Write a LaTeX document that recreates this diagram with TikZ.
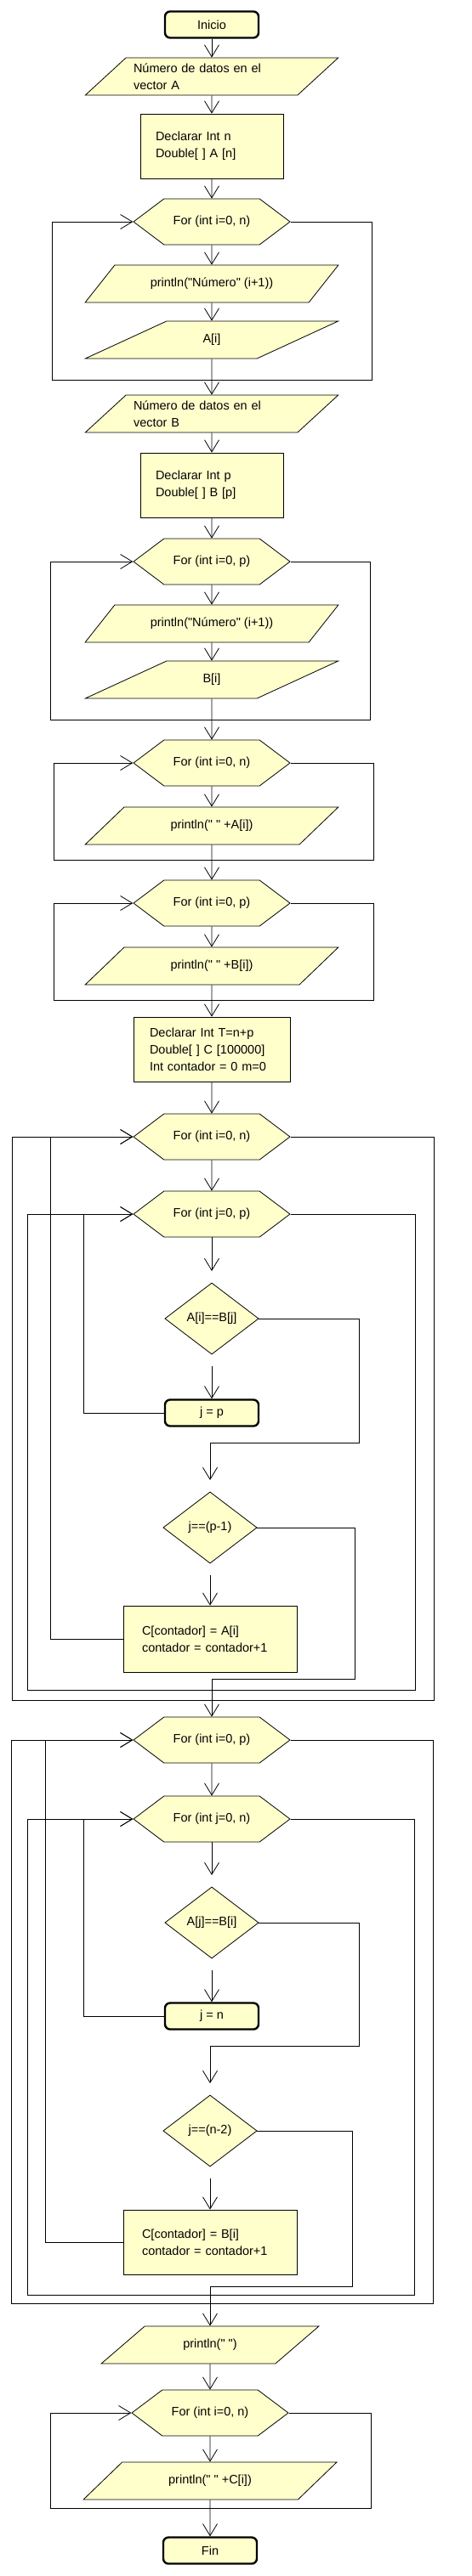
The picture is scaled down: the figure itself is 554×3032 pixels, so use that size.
\documentclass[tikz,border=0pt]{standalone}
\usepackage{fontspec}
\newfontfamily\letra{Liberation Sans}
\usetikzlibrary{arrows.meta,shapes.geometric,shapes.symbols}
\definecolor{amarillo}{RGB}{255,255,204}

\begin{document}
\begin{tikzpicture}[x=1pt,y=-1pt,
		base/.style={draw, fill=amarillo, line width=0.8pt, font=\letra\fontsize{14.5}{20}\selectfont, inner sep=2pt},
		terminal/.style={base, rounded corners=6pt, line width=2.4pt, minimum width=110pt, minimum height=31pt},
		datos/.style={base, trapezium, trapezium left angle=38, trapezium right angle=142, trapezium stretches=true, minimum width=298pt, minimum height=44pt},
		proceso/.style={base, rectangle, minimum width=168pt, minimum height=76pt, inner xsep=18pt, align=left},
		ciclo/.style={base, signal, signal to=east and west, signal pointer angle=74, minimum width=184pt, minimum height=54pt},
		decision/.style={base, diamond, minimum width=110pt, minimum height=92pt, inner sep=0pt, outer xsep=0pt, outer ysep=10pt},
		flecha/.style={line width=0.8pt, -{Straight Barb[length=14pt,width=17pt]}}]
		\newcommand\lazo[4]{ %% argumento 1: nodo for, 2: x derecha, 3: y abajo, 4: x izquierda
			\coordinate (#1-r) at (#2,#3);
			\coordinate (#1-l) at (#4,#3);
			\draw[flecha] (#1.east) -| (#1-r) -- (#1-l) |- (#1.west);
		}
		
		\useasboundingbox (0,0) rectangle (554,3032);
		
		%% lectura de A
		\node[terminal] (inicio) at (249,29) {Inicio};
		\node[datos, text width=184pt, align=left] (leerA) at (249,90) {Número de datos en el\\vector A};
		\node[proceso, text width=132pt] (declA) at (249,172) {Declarar Int n\\Double[ ] A [n]};
		\node[ciclo] (forA) at (249,261) {For (int i=0, n)};
		\node[datos] (msgA) at (249,334) {println("Número" (i+1))};
		\node[datos] (inA) at (249,400) {A[i]};
		\lazo{forA}{437}{447}{61}
		
		%% lectura de B
		\node[datos, text width=184pt, align=left] (leerB) at (249,487) {Número de datos en el\\vector B};
		\node[proceso, text width=132pt] (declB) at (249,571) {Declarar Int p\\Double[ ] B [p]};
		\node[ciclo] (forB) at (249,661) {For (int i=0, p)};
		\node[datos] (msgB) at (249,734) {println("Número" (i+1))};
		\node[datos] (inB) at (249,800) {B[i]};
		\lazo{forB}{435}{847}{59}
		
		%% impresion de A y B
		\node[ciclo] (verA) at (249,898) {For (int i=0, n)};
		\node[datos] (outA) at (249,972) {println(" " +A[i])};
		\lazo{verA}{439}{1012}{63}
		\node[ciclo] (verB) at (249,1063) {For (int i=0, p)};
		\node[datos] (outB) at (249,1137) {println(" " +B[i])};
		\lazo{verB}{439}{1177}{63}
		\node[proceso, minimum width=184pt, text width=146pt, inner xsep=19pt] (declC) at (249,1235) {Declarar Int T=n+p\\Double[ ] C [100000]\\Int contador = 0 m=0};
		
		%% elementos de A que no estan en B
		\node[ciclo] (forI) at (249,1338) {For (int i=0, n)};
		\node[ciclo] (forJ) at (249,1429) {For (int j=0, p)};
		\node[decision] (cmpA) at (249,1552) {A[i]==B[j]};
		\node[terminal] (salA) at (249,1663) {j = p};
		\node[decision] (finA) at (247,1798) {j==(p-1)};
		\node[proceso, minimum width=204pt, minimum height=78pt, text width=160pt, inner xsep=22pt] (guardaA) at (247,1929) {C[contador] = A[i]\\contador = contador+1};
		\coordinate (noA) at (422,1698);
		\coordinate (noB) at (417,1976);
		\coordinate (vueltaJ) at (98,1663);
		\coordinate (vueltaI) at (59,1929);
		\lazo{forJ}{488}{1989}{32}
		\lazo{forI}{510}{2001}{14}
		
		%% elementos de B que no estan en A
		\node[ciclo] (forI2) at (249,2048) {For (int i=0, p)};
		\node[ciclo] (forJ2) at (249,2141) {For (int j=0, n)};
		\node[decision] (cmpB) at (249,2263) {A[j]==B[i]};
		\node[terminal] (salB) at (249,2373) {j = n};
		\node[decision] (finB) at (247,2508) {j==(n-2)};
		\node[proceso, minimum width=204pt, minimum height=76pt, text width=160pt, inner xsep=22pt] (guardaB) at (247,2639) {C[contador] = B[i]\\contador = contador+1};
		\coordinate (noC) at (422,2408);
		\coordinate (noD) at (414,2691);
		\coordinate (vueltaJ2) at (98,2373);
		\coordinate (vueltaI2) at (53,2639);
		\lazo{forJ2}{487}{2701}{32}
		\lazo{forI2}{509}{2711}{13}
		
		%% impresion de C
		\node[datos, minimum width=256pt] (salto) at (247,2760) {println(" ")};
		\node[ciclo] (forC) at (247,2840) {For (int i=0, n)};
		\node[datos] (outC) at (247,2920) {println(" " +C[i])};
		\lazo{forC}{436}{2952}{59}
		\node[terminal] (fin) at (247,3002) {Fin};
		
		%% flechas
		\draw[flecha] (inicio) -- (leerA);
		\draw[flecha] (leerA) -- (declA);
		\draw[flecha] (declA) -- (forA);
		\draw[flecha] (forA) -- (msgA);
		\draw[flecha] (msgA) -- (inA);
		\draw[flecha] (inA) -- (leerB);
		\draw[flecha] (leerB) -- (declB);
		\draw[flecha] (declB) -- (forB);
		\draw[flecha] (forB) -- (msgB);
		\draw[flecha] (msgB) -- (inB);
		\draw[flecha] (inB) -- (verA);
		\draw[flecha] (verA) -- (outA);
		\draw[flecha] (outA) -- (verB);
		\draw[flecha] (verB) -- (outB);
		\draw[flecha] (outB) -- (declC);
		\draw[flecha] (declC) -- (forI);
		\draw[flecha] (forI) -- (forJ);
		\draw[flecha] (forJ) -- (cmpA);
		\draw[flecha] (cmpA) -- (salA);
		\draw[flecha] (cmpA.east) -| (noA) -| (finA.north);
		\draw[flecha] (finA) -- (guardaA);
		\draw[flecha] (salA.west) -- (vueltaJ) |- (forJ.west);
		\draw[flecha] (guardaA.west) -- (vueltaI) |- (forI.west);
		\draw[flecha] (finA.east) -| (noB) -| (forI2.north);
		\draw[flecha] (forI2) -- (forJ2);
		\draw[flecha] (forJ2) -- (cmpB);
		\draw[flecha] (cmpB) -- (salB);
		\draw[flecha] (cmpB.east) -| (noC) -| (finB.north);
		\draw[flecha] (finB) -- (guardaB);
		\draw[flecha] (salB.west) -- (vueltaJ2) |- (forJ2.west);
		\draw[flecha] (guardaB.west) -- (vueltaI2) |- (forI2.west);
		\draw[flecha] (finB.east) -| (noD) -| (salto.north);
		\draw[flecha] (salto) -- (forC);
		\draw[flecha] (forC) -- (outC);
		\draw[flecha] (outC) -- (fin);
	\end{tikzpicture}
\end{document}
